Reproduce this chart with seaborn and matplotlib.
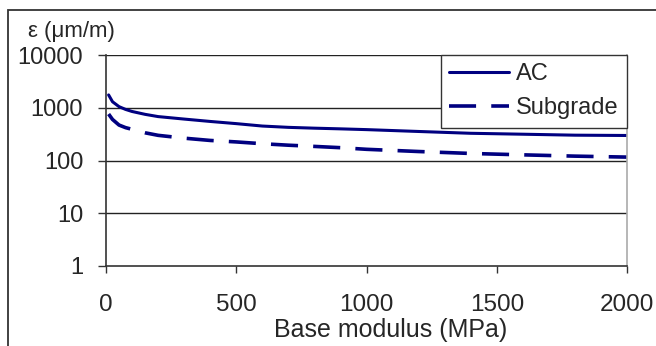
import numpy as np
import pandas as pd
import matplotlib
matplotlib.use("Agg")
import matplotlib.pyplot as plt
import seaborn as sns
from matplotlib.patches import Rectangle
from matplotlib.lines import Line2D

# ---- data ----
modulus = [10, 25, 50, 75, 100, 150, 200, 300, 400, 500, 600, 700, 800, 900,
           1000, 1200, 1400, 1600, 1800, 2000]
ac_strain = [1750, 1300, 1050, 930, 850, 750, 680, 610, 550, 500, 450, 425, 410, 398,
             385, 355, 328, 315, 302, 298]
subgrade_strain = [760, 600, 470, 420, 390, 335, 300, 265, 240, 225, 208, 195, 185, 175,
                   163, 148, 136, 128, 121, 116]
series_names = ["AC", "Subgrade"]
x_ticks = [0, 500, 1000, 1500, 2000]
y_ticks = [1, 10, 100, 1000, 10000]

df = pd.DataFrame({
    "modulus": modulus * 2,
    "strain": ac_strain + subgrade_strain,
    "layer": [series_names[0]] * len(modulus) + [series_names[1]] * len(modulus),
})

sns.set_style("white")
plt.rcParams["font.family"] = ["Liberation Sans", "DejaVu Sans"]

W, H = 656, 346
fig = plt.figure(figsize=(W / 100, H / 100), dpi=100)
L, R, T, B = 106, 627, 55, 266
ax = fig.add_axes([L / W, 1 - B / H, (R - L) / W, (B - T) / H])

navy = "#000080"
sns.lineplot(data=df, x="modulus", y="strain", style="layer", ax=ax,
             color=navy, dashes={"AC": "", "Subgrade": (7.5, 4.2)},
             linewidth=2.2, legend=False, estimator=None)
ax.lines[1].set_linewidth(2.6)

ax.set_yscale("log")
ax.set_xlim(0, 2000)
ax.set_ylim(1, 10000)
ax.set_xticks(x_ticks)
ax.set_xticklabels([str(v) for v in x_ticks])
ax.set_yticks(y_ticks)
ax.set_yticklabels([str(v) for v in y_ticks])
ax.yaxis.set_minor_locator(matplotlib.ticker.NullLocator())
ax.set_xlabel("")
ax.set_ylabel("")

ax.tick_params(axis="x", direction="out", length=5, width=1, color="#333333",
               labelsize=17.5, pad=15.5, bottom=True)
ax.tick_params(axis="y", direction="out", length=5.8, width=1, color="#333333",
               labelsize=17, pad=10.6, left=True)

for yv in y_ticks[1:]:
    ax.axhline(yv, color="#222222", lw=1, zorder=0)

ax.spines["left"].set_color("#333333")
ax.spines["left"].set_linewidth(1.2)
ax.spines["bottom"].set_color("#333333")
ax.spines["bottom"].set_linewidth(1.2)
ax.spines["top"].set_visible(False)
ax.spines["right"].set_color("#aaaaaa")
ax.spines["right"].set_linewidth(1.2)

handles = [Line2D([], [], color=navy, lw=2.2),
           Line2D([], [], color=navy, lw=2.6, dashes=(7.5, 4.2))]
leg = ax.legend(handles, series_names, loc="upper right", bbox_to_anchor=(1.0, 1.0),
                fontsize=17, frameon=True, fancybox=False, framealpha=1,
                edgecolor="#333333", borderaxespad=0, handlelength=2.55,
                handletextpad=0.28, borderpad=0.36, labelspacing=0.5)
leg.get_frame().set_linewidth(1)

fig.text(28 / W, 1 - 32 / H, "ε (μm/m)", fontsize=16, ha="left", va="center")
fig.text(391 / W, 1 - 330 / H, "Base modulus (MPa)", fontsize=18, ha="center", va="center")

fig.patches.append(Rectangle((8 / W, -0.1), 1.2, (1 - 10 / H) + 0.1,
                             transform=fig.transFigure, fill=False,
                             edgecolor="#333333", lw=1.3, figure=fig))

fig.savefig("out.png", dpi=100)
